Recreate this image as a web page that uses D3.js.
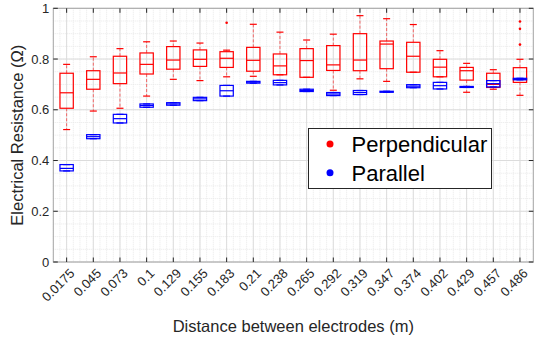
<!DOCTYPE html>
<html>
<head>
<meta charset="utf-8">
<script src="https://cdn.jsdelivr.net/npm/d3@7"></script>
<style>
  body { margin: 0; background: #fff; }
  text { font-family: 'Liberation Sans', Arial, sans-serif; }
</style>
</head>
<body>
<div id="chart"></div>
<script>
const categories = ['0.0175', '0.045', '0.073', '0.1', '0.129', '0.155', '0.183', '0.21', '0.238',
  '0.265', '0.292', '0.319', '0.347', '0.374', '0.402', '0.429', '0.457', '0.486'];

// perpendicular (red) box stats
const perpHigh = [0.779, 0.809, 0.841, 0.868, 0.871, 0.863, 0.835, 0.937, 0.906, 0.875, 0.898, 0.971, 0.959, 0.936, 0.833, 0.783, 0.758, 0.799];
const perpQ3 = [0.744, 0.754, 0.811, 0.824, 0.849, 0.836, 0.829, 0.846, 0.820, 0.841, 0.853, 0.900, 0.871, 0.866, 0.799, 0.767, 0.744, 0.766];
const perpMed = [0.667, 0.720, 0.745, 0.779, 0.796, 0.799, 0.803, 0.795, 0.773, 0.794, 0.777, 0.796, 0.859, 0.811, 0.768, 0.754, 0.700, 0.720];
const perpQ1 = [0.606, 0.681, 0.703, 0.741, 0.760, 0.771, 0.767, 0.752, 0.738, 0.728, 0.755, 0.754, 0.762, 0.748, 0.730, 0.717, 0.688, 0.708];
const perpLow = [0.522, 0.595, 0.606, 0.654, 0.720, 0.715, 0.730, 0.732, 0.738, 0.728, 0.677, 0.722, 0.712, 0.748, 0.730, 0.669, 0.681, 0.657];
const perpOutliers = [[7, 0.943], [18, 0.948], [18, 0.919], [18, 0.857]];

// parallel (blue) box stats
const parHigh = [0.384, 0.502, 0.582, 0.623, 0.628, 0.649, 0.696, 0.712, 0.716, 0.681, 0.668, 0.676, 0.673, 0.699, 0.708, 0.692, 0.715, 0.724];
const parQ3 = [0.384, 0.502, 0.582, 0.623, 0.628, 0.649, 0.696, 0.712, 0.716, 0.681, 0.668, 0.676, 0.673, 0.699, 0.708, 0.692, 0.715, 0.724];
const parMed = [0.369, 0.494, 0.565, 0.617, 0.623, 0.643, 0.675, 0.709, 0.707, 0.676, 0.662, 0.668, 0.671, 0.693, 0.695, 0.690, 0.703, 0.721];
const parQ1 = [0.359, 0.486, 0.548, 0.610, 0.618, 0.636, 0.654, 0.705, 0.698, 0.672, 0.656, 0.660, 0.669, 0.687, 0.682, 0.688, 0.690, 0.718];
const parLow = [0.359, 0.486, 0.548, 0.610, 0.618, 0.636, 0.654, 0.705, 0.698, 0.672, 0.656, 0.660, 0.669, 0.687, 0.682, 0.688, 0.690, 0.718];

const yTicks = [0, 0.2, 0.4, 0.6, 0.8, 1];
const yTickLabels = ['0', '0.2', '0.4', '0.6', '0.8', '1'];
const legendLabels = ['Perpendicular', 'Parallel'];

let width = 535;
let height = 337;
let plotLeft = 53.3, plotRight = 533.3, plotTop = 8.3, plotBottom = 262;

let svg = d3.select('#chart')
  .append('svg')
  .attr('width', width)
  .attr('height', height);

let x = d3.scaleLinear().domain([0.5, categories.length + 0.5]).range([plotLeft, plotRight]);
let y = d3.scaleLinear().domain([0, 1]).range([plotBottom, plotTop]);
let step = x(2) - x(1);

// minor grid
let minorX = d3.range(0.5, categories.length + 0.51, 0.25);
svg.append('g').selectAll('line')
  .data(minorX)
  .enter()
  .append('line')
  .attr('x1', d => x(d)).attr('x2', d => x(d))
  .attr('y1', plotTop).attr('y2', plotBottom)
  .attr('stroke', '#e8e8e8')
  .attr('stroke-dasharray', '1,1');
svg.append('g').selectAll('line')
  .data(d3.range(0, 1.001, 0.05))
  .enter()
  .append('line')
  .attr('x1', plotLeft).attr('x2', plotRight)
  .attr('y1', d => y(d)).attr('y2', d => y(d))
  .attr('stroke', '#e8e8e8')
  .attr('stroke-dasharray', '1,1');

// major grid
svg.append('g').selectAll('line')
  .data(categories)
  .enter()
  .append('line')
  .attr('x1', (d, i) => x(i + 1)).attr('x2', (d, i) => x(i + 1))
  .attr('y1', plotTop).attr('y2', plotBottom)
  .attr('stroke', '#dcdcdc');
svg.append('g').selectAll('line')
  .data(yTicks)
  .enter()
  .append('line')
  .attr('x1', plotLeft).attr('x2', plotRight)
  .attr('y1', d => y(d)).attr('y2', d => y(d))
  .attr('stroke', '#dcdcdc');

function drawBoxes(color, low, q1, med, q3, high) {
  let g = svg.append('g');
  let half = step / 4;
  let cap = 3.5;
  categories.forEach((c, i) => {
    let cx = x(i + 1);
    // whiskers
    g.append('line')
      .attr('x1', cx).attr('x2', cx)
      .attr('y1', y(q3[i])).attr('y2', y(high[i]))
      .attr('stroke', color).attr('stroke-opacity', 0.55)
      .attr('stroke-dasharray', '3,2');
    g.append('line')
      .attr('x1', cx).attr('x2', cx)
      .attr('y1', y(q1[i])).attr('y2', y(low[i]))
      .attr('stroke', color).attr('stroke-opacity', 0.55)
      .attr('stroke-dasharray', '3,2');
    [high[i], low[i]].forEach(v => {
      g.append('line')
        .attr('x1', cx - cap).attr('x2', cx + cap)
        .attr('y1', y(v)).attr('y2', y(v))
        .attr('stroke', color).attr('stroke-width', 1.2);
    });
    g.append('rect')
      .attr('x', cx - half)
      .attr('y', y(q3[i]))
      .attr('width', half * 2)
      .attr('height', Math.max(y(q1[i]) - y(q3[i]), 0.5))
      .attr('fill', 'none')
      .attr('stroke', color)
      .attr('stroke-width', 1.2);
    g.append('line')
      .attr('x1', cx - half).attr('x2', cx + half)
      .attr('y1', y(med[i])).attr('y2', y(med[i]))
      .attr('stroke', color).attr('stroke-width', 1.2);
  });
  return g;
}

drawBoxes('#ff0000', perpLow, perpQ1, perpMed, perpQ3, perpHigh);
svg.append('g').selectAll('circle')
  .data(perpOutliers)
  .enter()
  .append('circle')
  .attr('cx', d => x(d[0]))
  .attr('cy', d => y(d[1]))
  .attr('r', 1.3)
  .attr('fill', '#ff0000');
drawBoxes('#0000ff', parLow, parQ1, parMed, parQ3, parHigh);

// axes frame
svg.append('rect')
  .attr('x', plotLeft).attr('y', plotTop)
  .attr('width', plotRight - plotLeft).attr('height', plotBottom - plotTop)
  .attr('fill', 'none')
  .attr('stroke', '#a6a6a6');

// ticks
let ticks = svg.append('g').attr('stroke', '#262626');
categories.forEach((c, i) => {
  ticks.append('line').attr('x1', x(i + 1)).attr('x2', x(i + 1)).attr('y1', plotBottom).attr('y2', plotBottom - 4.5);
  ticks.append('line').attr('x1', x(i + 1)).attr('x2', x(i + 1)).attr('y1', plotTop).attr('y2', plotTop + 4.5);
});
yTicks.forEach(v => {
  ticks.append('line').attr('x1', plotLeft).attr('x2', plotLeft + 4.5).attr('y1', y(v)).attr('y2', y(v));
  ticks.append('line').attr('x1', plotRight).attr('x2', plotRight - 4.5).attr('y1', y(v)).attr('y2', y(v));
});

// tick labels
svg.append('g').selectAll('text')
  .data(yTickLabels)
  .enter()
  .append('text')
  .attr('x', plotLeft - 4)
  .attr('y', (d, i) => y(yTicks[i]))
  .attr('dy', '0.35em')
  .attr('text-anchor', 'end')
  .attr('font-size', 13)
  .attr('fill', '#262626')
  .text(d => d);

svg.append('g').selectAll('text')
  .data(categories)
  .enter()
  .append('text')
  .attr('transform', (d, i) => 'translate(' + (x(i + 1) + 5.5) + ',' + (plotBottom + 9) + ') rotate(-45)')
  .attr('dy', '0.35em')
  .attr('text-anchor', 'end')
  .attr('font-size', 13)
  .attr('fill', '#262626')
  .text(d => d);

svg.append('text')
  .attr('x', (plotLeft + plotRight) / 2)
  .attr('y', 332)
  .attr('text-anchor', 'middle')
  .attr('font-size', 16.5)
  .attr('fill', '#262626')
  .text('Distance between electrodes (m)');

svg.append('text')
  .attr('transform', 'translate(23,' + ((plotTop + plotBottom) / 2) + ') rotate(-90)')
  .attr('text-anchor', 'middle')
  .attr('font-size', 16.5)
  .attr('fill', '#262626')
  .text('Electrical Resistance (\u03A9)');

// legend
let legend = svg.append('g');
legend.append('rect')
  .attr('x', 308.5).attr('y', 128.5)
  .attr('width', 183).attr('height', 60)
  .attr('fill', '#fff')
  .attr('stroke', '#262626');
let legendColors = ['#ff0000', '#0000ff'];
legendLabels.forEach((label, i) => {
  let ly = 144 + i * 28.7;
  legend.append('circle')
    .attr('cx', 330).attr('cy', ly)
    .attr('r', 3.5)
    .attr('fill', legendColors[i]);
  legend.append('text')
    .attr('x', 351.5).attr('y', ly)
    .attr('dy', '0.36em')
    .attr('font-size', 22)
    .attr('fill', '#000')
    .text(label);
});
</script>
</body>
</html>
